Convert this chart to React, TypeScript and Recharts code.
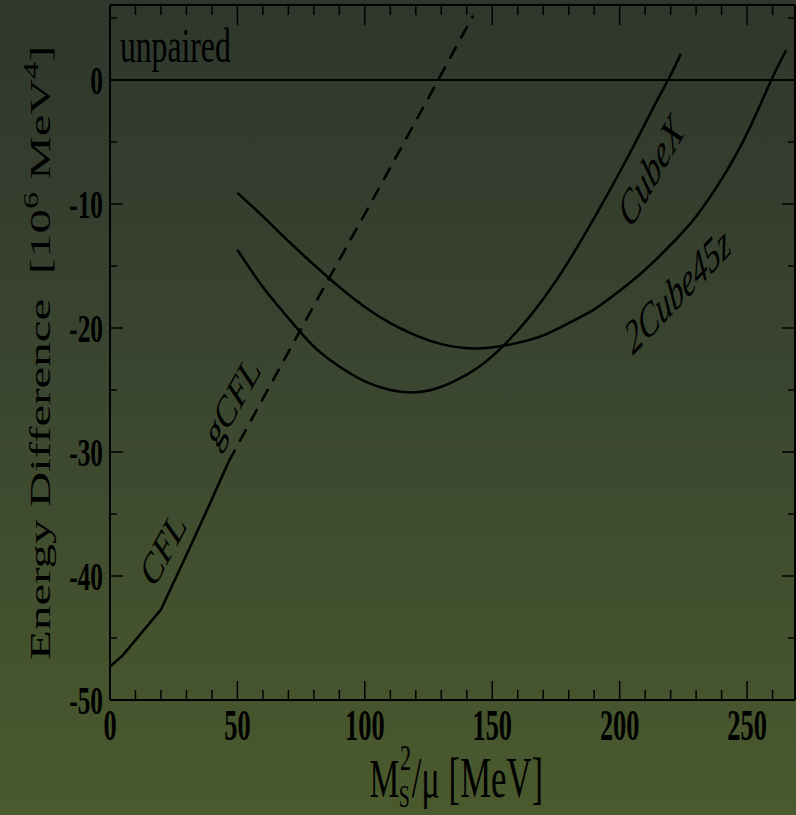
import { LineChart, Line, XAxis, YAxis, ReferenceDot } from 'recharts';

const FONT = '"Liberation Serif", "DejaVu Serif", serif';
const SQUEEZE = 0.62;

// tick values
const xTicks = [0, 10, 20, 30, 40, 50, 60, 70, 80, 90, 100, 110, 120, 130, 140, 150, 160, 170, 180, 190, 200, 210, 220, 230, 240, 250, 260];
const yTicks = [-50, -45, -40, -35, -30, -25, -20, -15, -10, -5, 0, 5];

// unpaired reference (zero line)
const unpairedX = [0, 268.8];
const unpairedY = [0, 0];

// CFL (solid)
const cflX = [0, 5, 20, 30, 40, 46.5];
const cflY = [-47.3, -46.4, -42.7, -38.3, -33.8, -30.8];

// gCFL (dashed)
const gcflX = [46.5, 60, 80, 100, 120, 142.5];
const gcflY = [-30.8, -25.7, -18.2, -10.8, -3.3, 5.2];

// CubeX
const cubeXX = [50, 60, 70, 80, 90, 100, 110, 118, 126, 135, 145, 155, 165, 175, 185, 195, 205, 214, 219, 224];
const cubeXY = [-13.7, -16.7, -19.2, -21.5, -23.1, -24.3, -25.0, -25.2, -25.0, -24.3, -23.1, -21.3, -19.0, -16.2, -12.9, -9.3, -5.5, -1.9, 0, 2.1];

// 2Cube45z
const cube45X = [50, 60, 70, 80, 90, 100, 110, 120, 130, 145, 160, 170, 180, 190, 200, 210, 220, 230, 240, 250, 259.5, 265.3];
const cube45Y = [-9.1, -11.0, -13.0, -14.9, -16.7, -18.3, -19.6, -20.6, -21.3, -21.65, -21.2, -20.6, -19.6, -18.5, -17.0, -15.3, -13.3, -11.0, -8.0, -4.3, 0, 2.4];

const toPoints = (xs: number[], ys: number[]) => xs.map((x, i) => ({ x, y: ys[i] }));

const BottomTick = (props: any) => {
  const { x, y, payload } = props;
  const major = payload.value % 50 === 0;
  return (
    <g>
      <line x1={x} x2={x} y1={y} y2={y - (major ? 19 : 10)} stroke="#000" strokeWidth={1.5} />
      {major && (
        <text
          transform={`translate(${x},${y + 40}) scale(0.6,1)`}
          textAnchor="middle"
          fontFamily={FONT}
          fontWeight="bold"
          fontSize={44}
          fill="#000"
        >
          {payload.value}
        </text>
      )}
    </g>
  );
};

const TopTick = (props: any) => {
  const { x, y, payload } = props;
  const major = payload.value % 50 === 0;
  return <line x1={x} x2={x} y1={y} y2={y + (major ? 20 : 10)} stroke="#000" strokeWidth={1.5} />;
};

const LeftTick = (props: any) => {
  const { x, y, payload } = props;
  const major = payload.value % 10 === 0;
  return (
    <g>
      <line x1={x} x2={x + (major ? 13 : 7)} y1={y} y2={y} stroke="#000" strokeWidth={1.5} />
      {major && (
        <text
          transform={`translate(${x - 7},${y + 14}) scale(0.65,1)`}
          textAnchor="end"
          fontFamily={FONT}
          fontWeight="bold"
          fontSize={39}
          fill="#000"
        >
          {payload.value}
        </text>
      )}
    </g>
  );
};

const RightTick = (props: any) => {
  const { x, y, payload } = props;
  const major = payload.value % 10 === 0;
  return <line x1={x} x2={x - (major ? 13 : 7)} y1={y} y2={y} stroke="#000" strokeWidth={1.5} />;
};

const XTitle = (props: any) => {
  const vb = props.viewBox || { x: 110, y: 700, width: 685 };
  const left = vb.x + vb.width / 2 - 83;
  const base = vb.y + 97;
  return (
    <g transform={`translate(${left},${base}) scale(${SQUEEZE},1)`} fontFamily={FONT} fill="#000">
      <text x={0} fontSize={54}>M</text>
      <text x={47} y={10} fontSize={32}>S</text>
      <text x={49} y={-27} fontSize={36}>2</text>
      <text x={68} fontSize={56}>/μ [MeV]</text>
    </g>
  );
};

const YTitle = (props: any) => {
  const vb = props.viewBox || { x: 0, y: 5, width: 110, height: 695 };
  const bottom = vb.y + vb.height - 40;
  return (
    <g transform={`translate(${vb.x + 50},${bottom}) scale(${SQUEEZE},1) rotate(-90)`}>
      <text fontFamily={FONT} fontSize={49} fill="#000">
        Energy Difference{'\u00a0\u00a0'}[10
        <tspan fontSize={34} dy={-20}>6</tspan>
        <tspan dy={20}>{'\u00a0'}MeV</tspan>
        <tspan fontSize={34} dy={-20}>4</tspan>
        <tspan dy={20}>]</tspan>
      </text>
    </g>
  );
};

const curveLabel = (text: string, angle: number, size: number, italic: boolean) => (p: any) => (
  <g transform={`translate(${p.cx},${p.cy}) scale(${SQUEEZE},1) rotate(${-angle})`}>
    <text
      textAnchor="middle"
      dy="0.35em"
      fontFamily={FONT}
      fontSize={size}
      fontStyle={italic ? 'italic' : 'normal'}
      fill="#000"
    >
      {text}
    </text>
  </g>
);

const unpairedLabel = (p: any) => (
  <text transform={`translate(${p.cx},${p.cy}) scale(0.66,1)`} fontFamily={FONT} fontSize={48} fill="#000">
    unpaired
  </text>
);

export default function App() {
  return (
    <div
      style={{
        position: 'absolute',
        left: 0,
        top: 0,
        width: 796,
        height: 815,
        background: 'linear-gradient(to bottom, #2f362b 0%, #3a4530 45%, #4a5a2d 100%)',
        overflow: 'hidden',
      }}
    >
      <LineChart width={796} height={815} margin={{ top: 4, right: 0, bottom: 0, left: 0 }}>
        <XAxis
          xAxisId="b"
          type="number"
          dataKey="x"
          domain={[0, 268.8]}
          allowDataOverflow
          ticks={xTicks}
          interval={0}
          height={115}
          tickSize={0}
          tickMargin={0}
          tickLine={false}
          tick={<BottomTick />}
          axisLine={{ stroke: '#000', strokeWidth: 2 }}
          label={<XTitle />}
        />
        <XAxis
          xAxisId="t"
          orientation="top"
          type="number"
          dataKey="x"
          domain={[0, 268.8]}
          allowDataOverflow
          ticks={xTicks}
          interval={0}
          height={1}
          tickSize={0}
          tickMargin={0}
          tickLine={false}
          tick={<TopTick />}
          axisLine={{ stroke: '#000', strokeWidth: 2 }}
        />
        <YAxis
          yAxisId="l"
          type="number"
          dataKey="y"
          domain={[-50, 6.05]}
          allowDataOverflow
          ticks={yTicks}
          interval={0}
          width={110}
          tickSize={0}
          tickMargin={0}
          tickLine={false}
          tick={<LeftTick />}
          axisLine={{ stroke: '#000', strokeWidth: 2 }}
          label={<YTitle />}
        />
        <YAxis
          yAxisId="r"
          orientation="right"
          type="number"
          domain={[-50, 6.05]}
          allowDataOverflow
          ticks={yTicks}
          interval={0}
          width={1}
          tickSize={0}
          tickMargin={0}
          tickLine={false}
          tick={<RightTick />}
          axisLine={{ stroke: '#000', strokeWidth: 2 }}
        />

        <Line xAxisId="b" yAxisId="l" data={toPoints(unpairedX, unpairedY)} dataKey="y" type="linear" stroke="#000" strokeWidth={2} dot={false} isAnimationActive={false} />
        <Line xAxisId="b" yAxisId="l" data={toPoints(cflX, cflY)} dataKey="y" type="linear" stroke="#000" strokeWidth={2.5} dot={false} isAnimationActive={false} />
        <Line xAxisId="b" yAxisId="l" data={toPoints(gcflX, gcflY)} dataKey="y" type="monotone" stroke="#000" strokeWidth={2.5} strokeDasharray="14 9" dot={false} isAnimationActive={false} />
        <Line xAxisId="b" yAxisId="l" data={toPoints(cubeXX, cubeXY)} dataKey="y" type="natural" stroke="#000" strokeWidth={2.5} dot={false} isAnimationActive={false} />
        <Line xAxisId="b" yAxisId="l" data={toPoints(cube45X, cube45Y)} dataKey="y" type="natural" stroke="#000" strokeWidth={2.5} dot={false} isAnimationActive={false} />

        <ReferenceDot xAxisId="b" yAxisId="l" x={3.9} y={1.45} r={1} shape={unpairedLabel} />
        <ReferenceDot xAxisId="b" yAxisId="l" x={20.8} y={-37.7} r={1} shape={curveLabel('CFL', 49, 46, false)} />
        <ReferenceDot xAxisId="b" yAxisId="l" x={47.9} y={-25.8} r={1} shape={curveLabel('gCFL', 47.6, 46, false)} />
        <ReferenceDot xAxisId="b" yAxisId="l" x={211.9} y={-7.3} r={1} shape={curveLabel('CubeX', 47.7, 48, true)} />
        <ReferenceDot xAxisId="b" yAxisId="l" x={222.5} y={-16.9} r={1} shape={curveLabel('2Cube45z', 32.8, 48, true)} />
      </LineChart>
    </div>
  );
}
